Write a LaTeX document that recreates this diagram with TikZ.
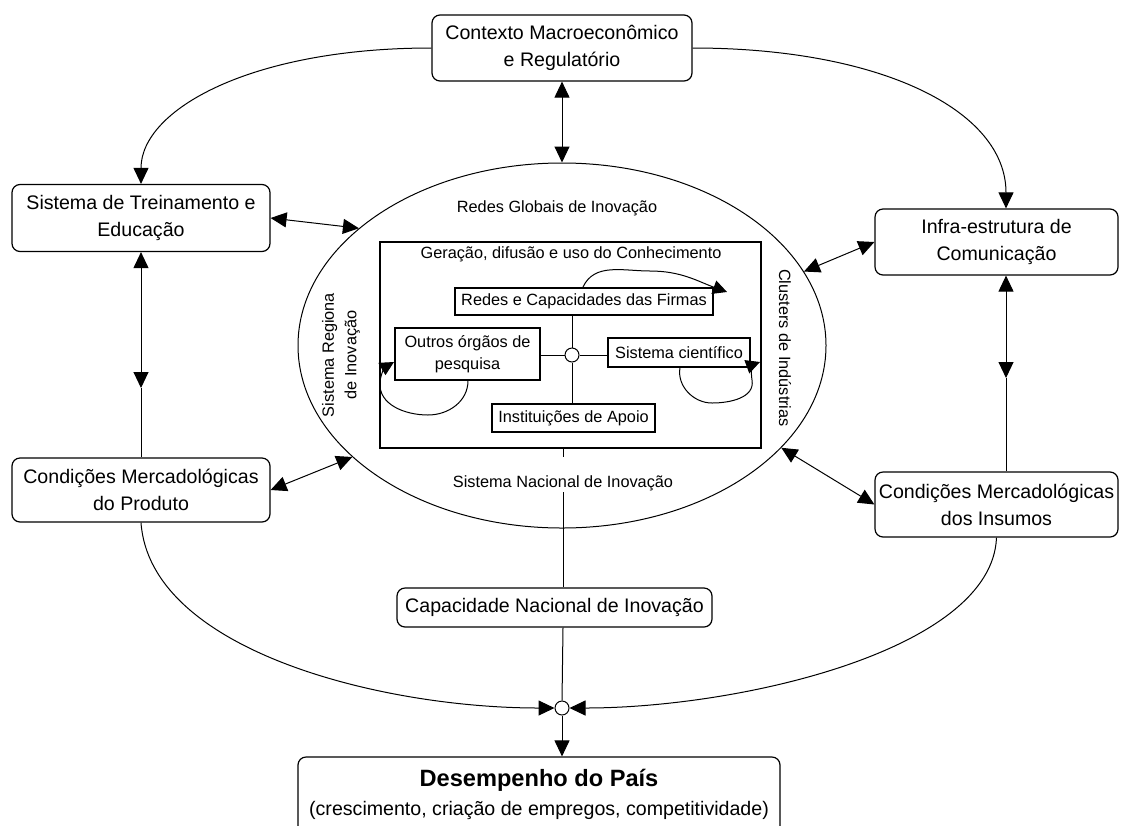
\documentclass[tikz,border=0pt]{standalone}
\usepackage{fontspec}
\setmainfont{Liberation Sans}
\usetikzlibrary{arrows.meta,shapes.geometric,calc}
\begin{document}
\begin{tikzpicture}[x=0.5pt,y=-0.5pt,line width=0.5pt,
  >={Triangle[length=8pt,width=7.5pt]},
  bigfont/.style={font=\fontsize{9.8}{13.5}\selectfont},
  smallfont/.style={font=\fontsize{8.15}{11.3}\selectfont},
  outerbox/.style={draw,line width=0.6pt,rounded corners=4pt,align=center,bigfont,inner sep=0pt},
  innerbox/.style={draw,line width=0.6pt,align=center,smallfont,inner sep=0pt},
  label/.style={smallfont,inner sep=0pt,align=center},
  junction/.style={draw,circle,fill=white,minimum size=7pt,inner sep=0pt,line width=0.5pt},
  smallhead/.style={-{Triangle[length=7pt,width=7pt]}}]
\useasboundingbox (0,0) rectangle (1128,825);
\clip (0,0) rectangle (1128,825);

% outer boxes
\node[outerbox,minimum width=130pt,minimum height=33pt] (ctx) at (562,48) {Contexto Macroeconômico\\e Regulatório};
\node[outerbox,minimum width=129pt,minimum height=33.5pt] (treina) at (141,218) {Sistema de Treinamento e\\Educação};
\node[outerbox,minimum width=121.5pt,minimum height=33pt] (infra) at (996.5,242) {Infra-estrutura de\\Comunicação};
\node[outerbox,minimum width=129pt,minimum height=32pt] (prod) at (141,490) {Condições Mercadológicas\\do Produto};
\node[outerbox,minimum width=121.5pt,minimum height=32.5pt] (insumos) at (996.5,504.5) {Condições Mercadológicas\\dos Insumos};
\node[outerbox,minimum width=157.5pt,minimum height=19.5pt] (cap) at (554.5,607.5) {Capacidade Nacional de Inovação};
\node[outerbox,minimum width=241pt,minimum height=50pt] (perf) at (539,807) {};
\node[font=\fontsize{11.8}{14}\selectfont\bfseries,inner sep=0pt] (perftitle) at (539,780) {Desempenho do País};
\node[bigfont,inner sep=0pt] (perfsub) at (539,810) {(crescimento, criação de empregos, competitividade)};

% central ellipse and knowledge frame
\node[draw,ellipse,minimum width=264pt,minimum height=182.5pt,inner sep=0pt,line width=0.5pt] (eco) at (562,345.5) {};
\node[label] (global) at (557,208) {Redes Globais de Inovação};
\node[label] (natl) at (563,483) {Sistema Nacional de Inovação};
\node[label,rotate=90] (regional) at (341,355) {Sistema Regiona\\de Inovação};
\node[label,rotate=-90] (clusters) at (785,348) {Clusters de Indústrias};

\node[draw,line width=0.6pt,minimum width=190.5pt,minimum height=103pt,inner sep=0pt] (frame) at (570.5,345) {};
\node[label] (frametitle) at (571,254) {Geração, difusão e uso do Conhecimento};
\node[innerbox,minimum width=129pt,minimum height=13.5pt] (redes) at (584,301.5) {Redes e Capacidades das Firmas};
\node[innerbox,minimum width=72.5pt,minimum height=26pt] (outros) at (467.5,354) {Outros órgãos de\\pesquisa};
\node[innerbox,minimum width=71pt,minimum height=14.5pt] (sci) at (679,352.5) {Sistema científico};
\node[innerbox,minimum width=81.5pt,minimum height=14pt] (inst) at (573.5,418) {Instituições de Apoio};
\node[junction] (hub) at (572,355) {};
\node[junction] (bot) at (562,708) {};

% hub connections inside the frame
\draw (hub.north) -- (hub.north |- redes.south);
\draw (hub.south) -- (hub.south |- inst.north);
\draw (hub.west) -- (hub.west -| outros.east);
\draw (hub.east) -- (hub.east -| sci.west);

% self loops
\draw[smallhead] (583,287) to[out=65,in=180] (650,271) to[out=0,in=160] (727,292);
\draw[smallhead] (outros.south) ++(0.5,0) to[out=-90,in=0] (428,415) to[out=180,in=-95] (380,382) to[out=85,in=210] (394,362);
\draw[smallhead] (sci.south) ++(1,0) to[out=-100,in=180] (712,403) to[out=0,in=-80] (752,380) to[out=100,in=200] (760,362);

% national spine
\coordinate (spine) at (563,0);
\coordinate (gaptop) at (563,457);
\coordinate (gapbot) at (563,492);
\draw (spine |- frame.south) -- (gaptop);
\draw (gapbot) -- (spine |- cap.north);
\draw (spine |- cap.south) -- (bot.north);
\draw[->] (bot.south) -- (bot.south |- perf.north);

% links to the ellipse
\draw[<->] (ctx.south) -- (eco.north);
\draw[<->] (treina.east) -- (eco.150);
\draw[<->] (prod.east) -- (eco.208);
\draw[<->] (infra.west) -- (eco.17);
\draw[<->] (insumos.west) -- (eco.-25);

% macro context arcs
\coordinate (rv) at (1006,0);
\draw[->] (ctx.west) .. controls (250,48) and (141,110) .. (treina.north);
\draw[->] (ctx.east) .. controls (880,48) and (1006,110) .. (rv |- infra.north);

% vertical side links
\coordinate (lmid) at (141,388);
\coordinate (rmid) at (1006,378);
\draw[<->] (treina.south) -- (lmid);
\draw (lmid) -- (prod.north);
\draw[<->] (rv |- infra.south) -- (rmid);
\draw (rmid) -- (rv |- insumos.north);

% market conditions to performance
\draw[->] (prod.south) .. controls (150,650) and (380,708) .. (bot.west);
\draw[->] (insumos.south) .. controls (992,650) and (740,708) .. (bot.east);
\end{tikzpicture}
\end{document}
